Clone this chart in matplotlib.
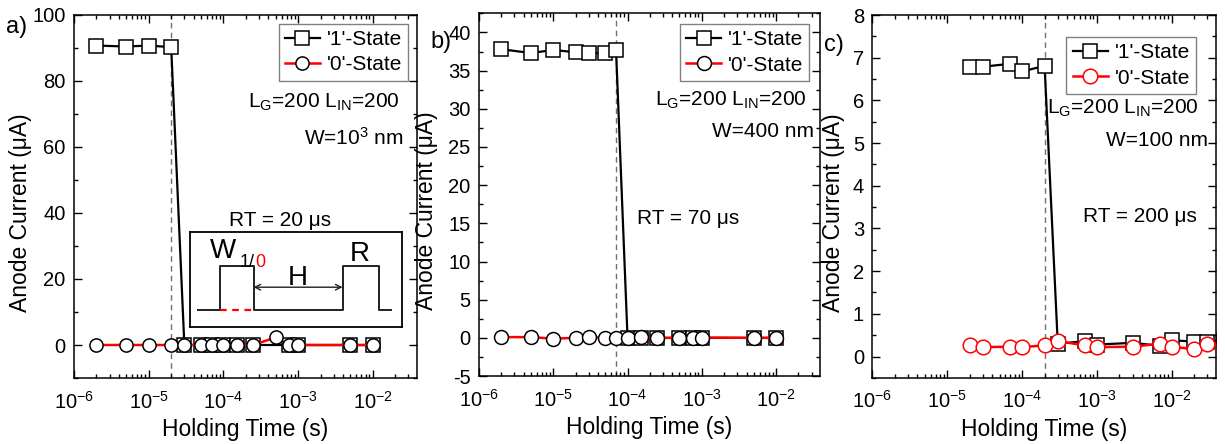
import numpy as np
import matplotlib
matplotlib.use("Agg")
import matplotlib.pyplot as plt
from matplotlib.ticker import LogLocator, MultipleLocator, NullFormatter

plt.rcParams['font.family'] = ['Liberation Sans', 'DejaVu Sans']
plt.rcParams['mathtext.fontset'] = 'custom'
plt.rcParams['mathtext.rm'] = 'Liberation Sans'
plt.rcParams['mathtext.it'] = 'Liberation Sans:italic'
plt.rcParams['mathtext.default'] = 'regular'
plt.rcParams['axes.unicode_minus'] = False

# ---- data ----
# a) W = 1000 nm
xa1 = [2e-6, 5e-6, 1e-5, 2e-5, 3e-5, 5e-5, 7e-5, 1e-4, 1.5e-4, 2.5e-4, 7.5e-4, 1e-3, 5e-3, 1e-2]
ya1 = [90.7, 90.4, 90.7, 90.2, 0, 0, 0, 0, 0, 0, 0, 0, 0, 0]
xa0 = [2e-6, 5e-6, 1e-5, 2e-5, 3e-5, 5e-5, 7e-5, 1e-4, 1.5e-4, 2.5e-4, 5e-4, 7.5e-4, 1e-3, 5e-3, 1e-2]
ya0 = [0, 0, 0, 0, 0, 0, 0, 0, 0, 0, 2.3, 0, 0, 0, 0]
# b) W = 400 nm
xb1 = [2e-6, 5e-6, 1e-5, 2e-5, 3e-5, 5e-5, 7e-5, 1e-4, 1.5e-4, 2.5e-4, 5e-4, 7.5e-4, 1e-3, 5e-3, 1e-2]
yb1 = [37.8, 37.3, 37.7, 37.4, 37.3, 37.3, 37.7, 0, 0, 0, 0, 0, 0, 0, 0]
xb0 = [2e-6, 5e-6, 1e-5, 2e-5, 3e-5, 5e-5, 7e-5, 1e-4, 1.5e-4, 2.5e-4, 5e-4, 7.5e-4, 1e-3, 5e-3, 1e-2]
yb0 = [0.1, 0.1, -0.1, 0, 0.1, 0, 0.05, 0, 0.1, 0, 0, 0, 0.05, 0, 0]
# c) W = 100 nm
xc1 = [2e-5, 3e-5, 7e-5, 1e-4, 2e-4, 3e-4, 7e-4, 1e-3, 3e-3, 7e-3, 1e-2, 2e-2, 3e-2, 5e-2]
yc1 = [6.79, 6.79, 6.86, 6.68, 6.81, 0.30, 0.36, 0.28, 0.32, 0.25, 0.38, 0.35, 0.35, 0.38]
xc0 = [2e-5, 3e-5, 7e-5, 1e-4, 2e-4, 3e-4, 7e-4, 1e-3, 3e-3, 7e-3, 1e-2, 2e-2, 3e-2, 5e-2]
yc0 = [0.26, 0.22, 0.23, 0.22, 0.26, 0.36, 0.26, 0.22, 0.23, 0.30, 0.22, 0.18, 0.30, 0.25]

retention = [2e-5, 7e-5, 2e-4]
rt_labels = ['RT = 20 μs', 'RT = 70 μs', 'RT = 200 μs']
w_labels = ['W=10$^{3}$ nm', 'W=400 nm', 'W=100 nm']
panel_letters = ['a)', 'b)', 'c)']
ylims = [(-10, 100), (-5, 42.5), (-0.5, 8)]
ymajor = [20, 5, 1]
yminor = [10, 2.5, 0.5]

fig = plt.figure(figsize=(12.25, 4.44), dpi=100)
axes = [fig.add_axes([0.0604, 0.1486, 0.280, 0.818]),
        fig.add_axes([0.391, 0.153, 0.2784, 0.817]),
        fig.add_axes([0.7122, 0.149, 0.2804, 0.817])]

data = [(xa1, ya1, xa0, ya0), (xb1, yb1, xb0, yb0), (xc1, yc1, xc0, yc0)]
circle_edge = ['black', 'black', 'red']
ms = [9.5, 10, 10.5]

for i, ax in enumerate(axes):
    x1, y1, x0, y0 = data[i]
    ax.axvline(retention[i], color='#707070', lw=1, ls=(0, (4, 3)), zorder=1)
    ax.plot(x1, y1, '-s', color='black', lw=1.6, ms=ms[i], mfc='white', mec='black',
            mew=1.1, label="'1'-State", zorder=3)
    ax.plot(x0, y0, '-o', color='red', lw=1.8, ms=ms[i], mfc='white', mec=circle_edge[i],
            mew=1.1, label="'0'-State", zorder=4)
    ax.set_xscale('log')
    ax.set_xlim(1e-6, 3.9e-2)
    ax.set_ylim(*ylims[i])
    ax.xaxis.set_major_locator(LogLocator(base=10, numticks=10))
    ax.xaxis.set_minor_locator(LogLocator(base=10, subs=np.arange(2, 10), numticks=50))
    ax.xaxis.set_minor_formatter(NullFormatter())
    ax.yaxis.set_major_locator(MultipleLocator(ymajor[i]))
    ax.yaxis.set_minor_locator(MultipleLocator(yminor[i]))
    ax.tick_params(which='both', direction='in', top=True, right=True, labelsize=14.5, width=1)
    ax.tick_params(which='major', length=6, pad=6)
    ax.tick_params(axis='x', which='major', pad=9)
    ax.tick_params(which='minor', length=3)
    for s in ax.spines.values():
        s.set_linewidth(1.1)
    ax.set_xlabel('Holding Time (s)', fontsize=16.5)
    ax.set_ylabel('Anode Current (μA)', fontsize=16.5)

axes[0].yaxis.set_label_coords(-0.122, 0.455)
axes[1].yaxis.set_label_coords(-0.120, 0.455)
axes[2].yaxis.set_label_coords(-0.080, 0.455)
for ax in axes:
    ax.xaxis.set_label_coords(0.5, -0.11)

leg_anchor = [(0.974, 0.975), (0.968, 0.970), (0.942, 0.939)]
lg_pos = [(0.950, 0.760), (0.962, 0.761), (0.951, 0.744)]
w_pos = [(0.962, 0.661), (0.982, 0.673), (0.977, 0.655)]
rt_pos = [(0.60, 0.435, 'center'), (0.463, 0.435, 'left'), (0.945, 0.446, 'right')]
for i, ax in enumerate(axes):
    leg = ax.legend(loc='upper right', bbox_to_anchor=leg_anchor[i], borderaxespad=0,
                    fontsize=15, fancybox=False, edgecolor='#808080', framealpha=1,
                    handlelength=1.7, handletextpad=0.3, borderpad=0.3, labelspacing=0.3)
    leg.get_frame().set_linewidth(1.0)
    ax.text(lg_pos[i][0], lg_pos[i][1], 'L$_{G}$=200 L$_{IN}$=200', transform=ax.transAxes,
            ha='right', va='center', fontsize=15)
    ax.text(w_pos[i][0], w_pos[i][1], w_labels[i], transform=ax.transAxes,
            ha='right', va='center', fontsize=15)
    ax.text(rt_pos[i][0], rt_pos[i][1], rt_labels[i], transform=ax.transAxes,
            ha=rt_pos[i][2], va='center', fontsize=15)

fig.text(0.005, 0.94, panel_letters[0], fontsize=17, va='center')
fig.text(0.351, 0.905, panel_letters[1], fontsize=17, va='center')
fig.text(0.673, 0.899, panel_letters[2], fontsize=17, va='center')

# inset: write / hold / read pulse scheme
ins = axes[0].inset_axes([0.338, 0.140, 0.618, 0.262])
ins.set_xlim(0, 1)
ins.set_ylim(0, 1)
ins.set_xticks([])
ins.set_yticks([])
for s in ins.spines.values():
    s.set_linewidth(1.3)
wave_x = [0.04, 0.14, 0.14, 0.30, 0.30, 0.72, 0.72, 0.89, 0.89, 0.95]
wave_y = [0.18, 0.18, 0.64, 0.64, 0.18, 0.18, 0.64, 0.64, 0.18, 0.18]
ins.plot(wave_x, wave_y, color='#202020', lw=1.4)
ins.plot([0.14, 0.30], [0.18, 0.18], color='red', lw=1.6, ls=(0, (3, 2.5)))
ins.annotate('', xy=(0.30, 0.42), xytext=(0.72, 0.42),
             arrowprops=dict(arrowstyle='<->', color='#202020', lw=1, shrinkA=0, shrinkB=0))
ins.text(0.094, 0.80, 'W', fontsize=20, ha='left', va='center')
ins.text(0.236, 0.68, '1/', fontsize=13, ha='left', va='center')
ins.text(0.31, 0.68, '0', fontsize=13, ha='left', va='center', color='red')
ins.text(0.51, 0.52, 'H', fontsize=20, ha='center', va='center')
ins.text(0.80, 0.77, 'R', fontsize=20, ha='center', va='center')

fig.savefig('out.png', dpi=100)
